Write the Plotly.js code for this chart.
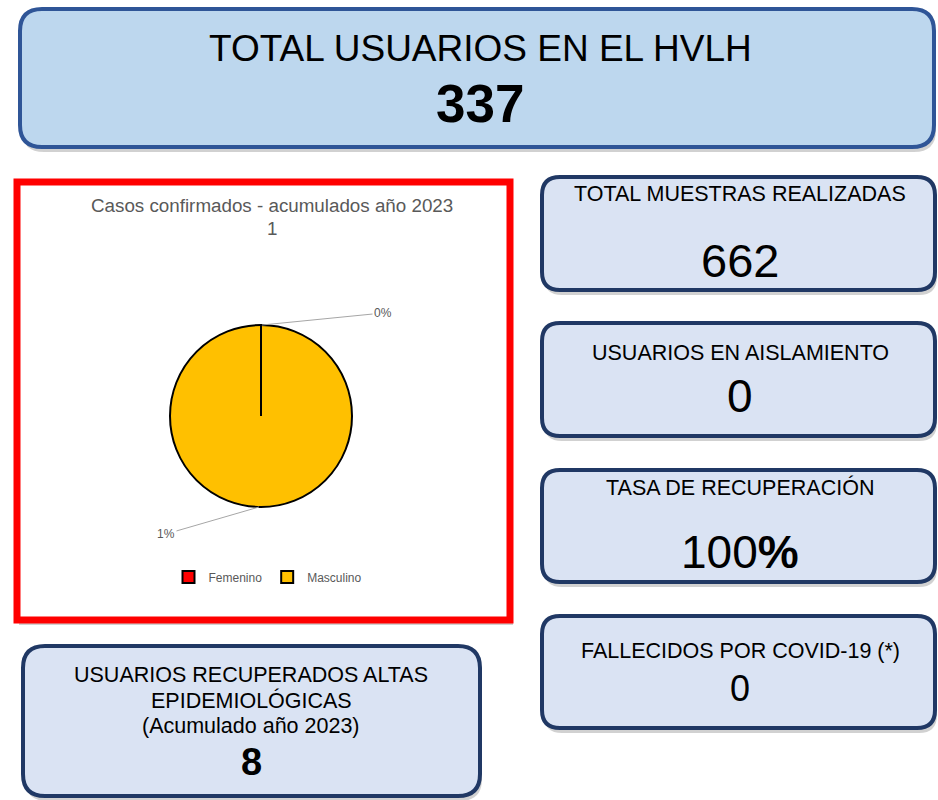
<!DOCTYPE html>
<html>
<head>
<meta charset="utf-8">
<script src="https://cdn.plot.ly/plotly-3.0.1.min.js"></script>
<style>html,body{margin:0;padding:0;background:#fff;}#chart{width:938px;height:800px;}</style>
</head>
<body>
<div id="chart"></div>
<script>
// ---- data ----
const pieTitle = "Casos confirmados - acumulados año 2023";
const pieSubtitle = "1";
const categories = ["Femenino", "Masculino"];
const caseValues = [0, 1];
const caseLabels = ["0%", "1%"];
const sliceColors = ["#FF0000", "#FFC000"];

const headerTitle = "TOTAL USUARIOS EN EL HVLH";
const headerValue = "337";

const kpiTitles = ["TOTAL MUESTRAS REALIZADAS", "USUARIOS EN AISLAMIENTO", "TASA DE RECUPERACIÓN", "FALLECIDOS POR COVID-19 (*)"];
const kpiValues = ["662", "0", "100<b>%</b>", "0"];

const recoveredTitle = ["USUARIOS RECUPERADOS ALTAS", "EPIDEMIOLÓGICAS", "(Acumulado año 2023)"];
const recoveredValue = "8";

// ---- helpers ----
const W = 938, H = 800;
const FONT = "Liberation Sans, Arial, sans-serif";
function rr(x0, y0, x1, y1, r) {
  return `M${x0 + r},${y0} L${x1 - r},${y0} Q${x1},${y0} ${x1},${y0 + r} L${x1},${y1 - r} Q${x1},${y1} ${x1 - r},${y1} L${x0 + r},${y1} Q${x0},${y1} ${x0},${y1 - r} L${x0},${y0 + r} Q${x0},${y0} ${x0 + r},${y0} Z`;
}
const shapes = [];
const annotations = [];
function box(x0, y0, x1, y1, r, fill, line, lw) {
  shapes.push({type: "path", xref: "x", yref: "y", layer: "below", path: rr(x0 + 2, y0 + 4, x1 + 2, y1 + 5, r), fillcolor: "rgba(0,0,0,0.18)", line: {width: 0}});
  shapes.push({type: "path", xref: "x", yref: "y", layer: "below", path: rr(x0, y0, x1, y1, r), fillcolor: fill, line: {color: line, width: lw}});
}
function txt(x, y, t, size, bold, color, family) {
  annotations.push({xref: "x", yref: "y", x: x, y: y, text: bold ? "<b>" + t + "</b>" : t, showarrow: false,
    xanchor: "center", yanchor: "middle", font: {family: family || FONT, size: size, color: color || "#000"}});
}

// header box
box(20, 9, 934, 147, 22, "#BDD7EE", "#2F5597", 4);
txt(480, 48, headerTitle, 37, false);
txt(480, 103, headerValue, 53, true);

// red chart frame
shapes.push({type: "rect", xref: "x", yref: "y", layer: "below", x0: 19, y0: 185, x1: 513, y1: 625, fillcolor: "rgba(0,0,0,0.18)", line: {width: 0}});
shapes.push({type: "rect", xref: "x", yref: "y", layer: "below", x0: 17, y0: 182, x1: 510, y1: 620, fillcolor: "#FFFFFF", line: {color: "#FF0000", width: 7}});
txt(272, 205, pieTitle, 18.8, false, "#595959");
txt(272, 228, pieSubtitle, 18.8, false, "#595959");

// KPI boxes on the right
const kpiY = [[177, 290], [323, 436], [470, 582], [616, 728]];
const kpiTitleY = [194, 353, 487, 651];
const kpiValueY = [260, 396, 552, 688];
const kpiValueSize = [47, 46, 46, 36];
for (let i = 0; i < kpiTitles.length; i++) {
  box(542, kpiY[i][0], 935, kpiY[i][1], 18, "#DAE3F3", "#203864", 4);
  txt(740, kpiTitleY[i], kpiTitles[i], 21.5, false);
  txt(740, kpiValueY[i], kpiValues[i], kpiValueSize[i], false);
}

// bottom-left box
box(23, 646, 480, 796, 22, "#DAE3F3", "#203864", 4);
const recY = [675, 700, 726];
recoveredTitle.forEach((t, i) => txt(251, recY[i], t, 21.5, false));
txt(251, 762, recoveredValue, 38, true);

// pie geometry
const cx = 261, cy = 416, R = 91;
// slice boundary line (zero-width slice)
shapes.push({type: "line", xref: "x", yref: "y", layer: "above", x0: cx, y0: cy, x1: cx, y1: cy - R, line: {color: "#000", width: 2}});

// leader labels
annotations.push({xref: "x", yref: "y", axref: "x", ayref: "y", x: cx + 1, y: cy - R, ax: 383, ay: 313, text: caseLabels[0],
  showarrow: true, arrowhead: 0, arrowwidth: 1, arrowcolor: "#A6A6A6", standoff: 0,
  font: {family: FONT, size: 12, color: "#595959"}});
annotations.push({xref: "x", yref: "y", axref: "x", ayref: "y", x: cx - 2, y: cy + R, ax: 166, ay: 534, text: caseLabels[1],
  showarrow: true, arrowhead: 0, arrowwidth: 1, arrowcolor: "#A6A6A6", standoff: 0,
  font: {family: FONT, size: 12, color: "#595959"}});

const trace = {
  type: "pie",
  labels: categories,
  values: caseValues,
  sort: false,
  direction: "clockwise",
  rotation: 0,
  textinfo: "none",
  hoverinfo: "label+value",
  marker: {colors: sliceColors, line: {color: "#000", width: 2}},
  domain: {x: [(cx - R) / W, (cx + R) / W], y: [1 - (cy + R) / H, 1 - (cy - R) / H]},
  showlegend: true
};

const layout = {
  width: W, height: H,
  margin: {l: 0, r: 0, t: 0, b: 0},
  paper_bgcolor: "#FFFFFF", plot_bgcolor: "rgba(0,0,0,0)",
  xaxis: {range: [0, W], visible: false, fixedrange: true, domain: [0, 1]},
  yaxis: {range: [H, 0], visible: false, fixedrange: true, domain: [0, 1]},
  showlegend: true,
  legend: {orientation: "h", x: 268 / W, xanchor: "center", y: 1 - 577 / H, yanchor: "middle",
    font: {family: FONT, size: 12, color: "#595959"}, bgcolor: "rgba(0,0,0,0)", itemwidth: 30},
  shapes: shapes,
  annotations: annotations
};

Plotly.newPlot("chart", [trace], layout, {displayModeBar: false, staticPlot: true});
</script>
</body>
</html>
